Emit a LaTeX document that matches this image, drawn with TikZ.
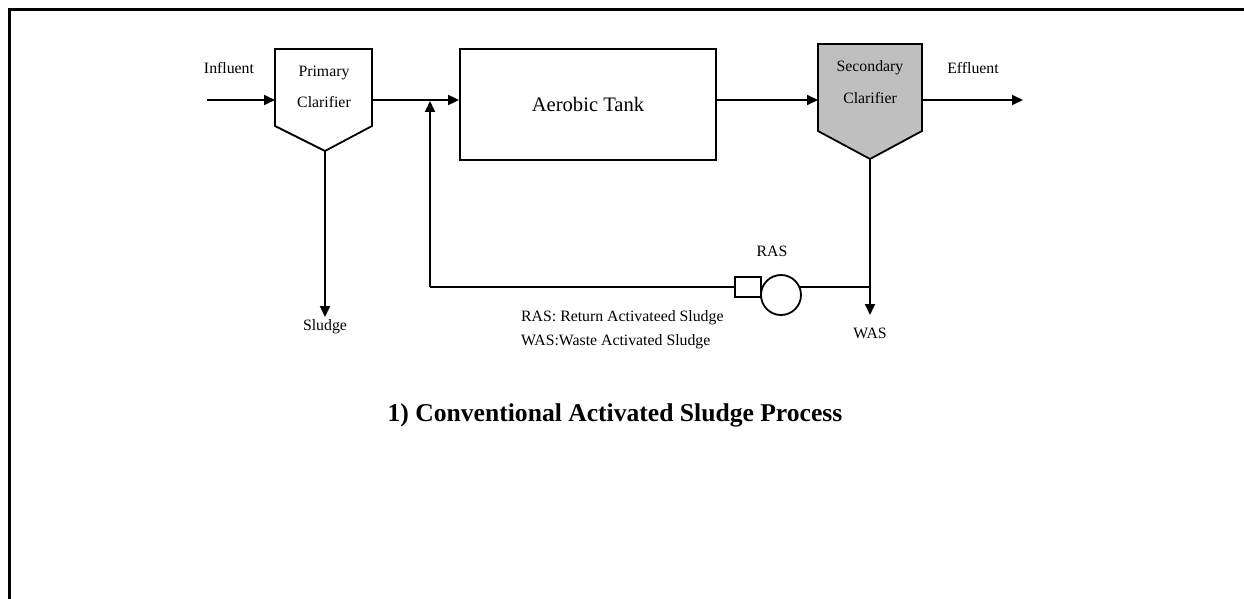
\documentclass[tikz,border=0pt]{standalone}
\usepackage{fontspec}
\setmainfont{Liberation Serif}
\usetikzlibrary{arrows.meta,calc}
\tikzset{
  flow/.style={line width=1.8pt},
  arr/.style={flow,-{Triangle[length=11pt,width=10pt]}},
  lbl/.style={inner sep=0pt,anchor=base,font=\fontsize{15.8}{18}\selectfont},
  unit/.style={draw,line width=1.8pt,line join=miter},
}
\begin{document}
\begin{tikzpicture}[x=1pt,y=-1pt]
\useasboundingbox (0,0) rectangle (1244,599);
\draw[line width=3pt] (9,599) -- (9,10) -- (1244,10);

% primary clarifier
\draw[unit] (275,49) -- (372,49) -- (372,126) -- (325,151) -- (275,126) -- cycle;
\coordinate (pcin) at (275,100);
\coordinate (pcout) at (372,100);
\coordinate (pcbot) at (325,151);
\node[lbl] (pc1) at (324,77) {Primary};
\node[lbl] (pc2) at (324,108) {Clarifier};

% influent
\coordinate (inf) at (207,100);
\node[lbl] (inflbl) at (229,74) {Influent};
\draw[arr] (inf) -- (pcin);

% aerobic tank
\node[unit,minimum width=256pt,minimum height=111pt,inner sep=0pt] (tank) at (588,104.5) {};
\node[inner sep=0pt,anchor=base,font=\fontsize{20.6}{24}\selectfont] (tanklbl) at (588,112) {Aerobic Tank};
\coordinate (j) at (430,100);
\draw[flow] (pcout) -- (j);
\draw[arr] (j) -- (j -| tank.west);

% secondary clarifier
\draw[unit,fill=gray!50] (818,44) -- (922,44) -- (922,131) -- (870,159) -- (818,131) -- cycle;
\coordinate (scin) at (818,100);
\coordinate (scout) at (922,100);
\coordinate (scbot) at (870,159);
\node[lbl] (sc1) at (870,72) {Secondary};
\node[lbl] (sc2) at (870,104) {Clarifier};
\draw[arr] (tank.east |- scin) -- (scin);

% effluent
\coordinate (eff) at (1023,100);
\node[lbl] (efflbl) at (973,74) {Effluent};
\draw[arr] (scout) -- (eff);

% sludge
\coordinate (sl) at (325,317);
\draw[arr] (pcbot) -- (sl);
\node[lbl] (sllbl) at (325,330) {Sludge};

% WAS
\coordinate (w) at (870,287);
\coordinate (wend) at (870,315);
\draw[arr] (scbot) -- (wend);
\node[lbl] (waslbl) at (870,338) {WAS};

% RAS loop with pump
\node[draw,line width=1.8pt,minimum width=26pt,minimum height=20pt,inner sep=0pt] (prect) at (748,287) {};
\draw[flow] (w) -- (prect.east);
\node[draw,line width=1.8pt,fill=white,circle,minimum size=40pt,inner sep=0pt] (pump) at (781,295) {};
\coordinate (rj) at (430,287);
\coordinate (jb) at (430,101);
\draw[flow] (prect.west) -- (rj);
\draw[arr] (rj) -- (jb);
\node[lbl] (raslbl) at (772,256) {RAS};

% legend
\node[lbl,anchor=base west] (leg1) at (521,321) {RAS: Return Activateed Sludge};
\node[lbl,anchor=base west] (leg2) at (521,345) {WAS:Waste Activated Sludge};

% title
\node[inner sep=0pt,anchor=base,font=\fontsize{25.6}{30}\selectfont\bfseries] (title) at (615,421) {1) Conventional Activated Sludge Process};
\end{tikzpicture}
\end{document}
